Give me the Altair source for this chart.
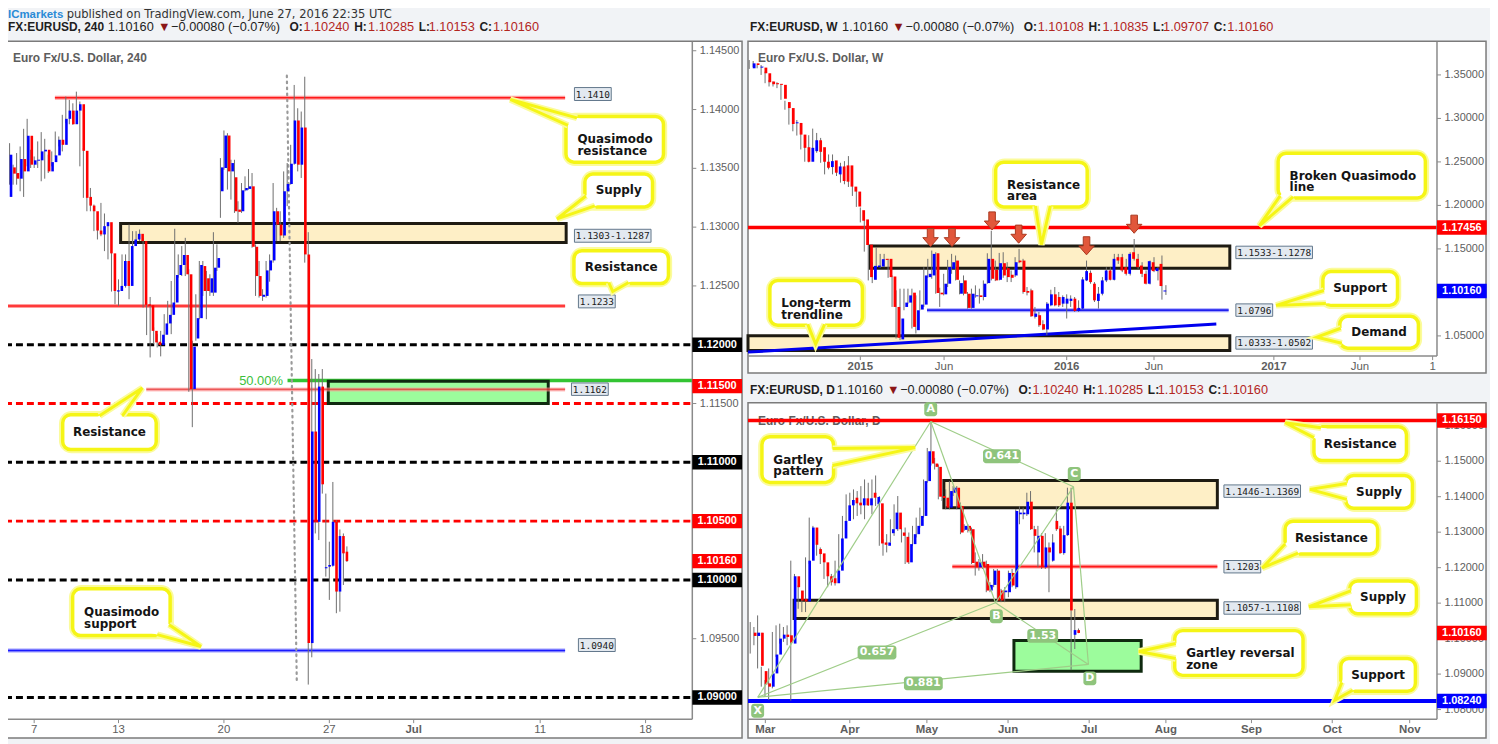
import altair as alt
import pandas as pd

# ============================ DATA ============================
# ---- EURUSD 240 (4h) candles, index 0 = first bar of Mon 27 Jun ----
H4_FIRST = -92
h4_open = [1.13257, 1.13508, 1.13460, 1.13412, 1.13579, 1.13474, 1.13777, 1.13531, 1.13565, 1.13568,
           1.13644, 1.13658, 1.13474, 1.13553, 1.13610, 1.13743, 1.13700, 1.13921, 1.13991, 1.13875,
           1.13991, 1.14045, 1.13649, 1.13257, 1.13183, 1.13135, 1.12971, 1.12938, 1.13008, 1.13042,
           1.12777, 1.12452, 1.12457, 1.12500, 1.12712, 1.12500, 1.12839, 1.12895, 1.12943, 1.12881,
           1.12344, 1.12336, 1.12118, 1.12025, 1.11997, 1.12085, 1.12181, 1.12254, 1.12359, 1.12593,
           1.12678, 1.12763, 1.12599, 1.11624, 1.12053, 1.12226, 1.12669, 1.12565, 1.12443, 1.12443,
           1.12655, 1.13305, 1.13503, 1.13779, 1.13474, 1.13424, 1.13149, 1.13135, 1.13313, 1.13325,
           1.13347, 1.12833, 1.12584, 1.12409, 1.12415, 1.12632, 1.12717, 1.13135, 1.13022, 1.12929,
           1.13305, 1.13367, 1.13539, 1.13907, 1.13531, 1.13847, 1.12768, 1.09463, 1.11262, 1.10494,
           1.11644, 1.10099, 1.10113, 1.10121, 1.10494, 1.09901, 1.10373, 1.10240]
h4_high = [1.13743, 1.13714, 1.13531, 1.13630, 1.13686, 1.13836, 1.13921, 1.13658, 1.13601, 1.13729,
           1.13808, 1.13751, 1.13616, 1.13644, 1.13813, 1.13771, 1.13955, 1.14110, 1.14082, 1.14053,
           1.14152, 1.14068, 1.13672, 1.13361, 1.13333, 1.13192, 1.13036, 1.13206, 1.13116, 1.13042,
           1.12796, 1.12556, 1.12556, 1.12768, 1.12768, 1.13022, 1.12966, 1.12966, 1.12980, 1.12909,
           1.12359, 1.12406, 1.12147, 1.12090, 1.12118, 1.12260, 1.12373, 1.12542, 1.12986, 1.12768,
           1.12839, 1.12909, 1.12641, 1.12034, 1.12429, 1.12712, 1.12712, 1.12627, 1.12599, 1.12957,
           1.12853, 1.13587, 1.13822, 1.13799, 1.13573, 1.13573, 1.13220, 1.13375, 1.13432, 1.13494,
           1.13460, 1.12853, 1.12712, 1.12472, 1.12712, 1.12768, 1.13375, 1.13164, 1.13135, 1.13474,
           1.13545, 1.13700, 1.14209, 1.14011, 1.13983, 1.14279, 1.12957, 1.11878, 1.11793, 1.11751,
           1.11793, 1.10734, 1.10325, 1.10833, 1.10508, 1.10429, 1.10395, 1.10285]
h4_low = [1.13257, 1.13361, 1.13361, 1.13361, 1.13305, 1.13257, 1.13517, 1.13503, 1.13503, 1.13503,
          1.13390, 1.13412, 1.13460, 1.13517, 1.13601, 1.13686, 1.13644, 1.13884, 1.13875, 1.13870,
          1.13983, 1.13517, 1.13249, 1.13135, 1.13135, 1.12966, 1.12895, 1.12923, 1.12796, 1.12726,
          1.12452, 1.12344, 1.12330, 1.12486, 1.12486, 1.12387, 1.12825, 1.12881, 1.12881, 1.12316,
          1.12082, 1.11892, 1.12005, 1.11977, 1.11901, 1.12014, 1.12175, 1.12090, 1.12344, 1.12570,
          1.12584, 1.12584, 1.11600, 1.11299, 1.12034, 1.12217, 1.12415, 1.12217, 1.12415, 1.12415,
          1.12627, 1.13079, 1.13488, 1.13319, 1.13234, 1.13121, 1.13036, 1.13121, 1.13305, 1.13319,
          1.12825, 1.12415, 1.12401, 1.12373, 1.12401, 1.12536, 1.12698, 1.12881, 1.12881, 1.12909,
          1.13178, 1.13361, 1.13531, 1.13474, 1.13418, 1.12698, 1.09110, 1.09342, 1.10395, 1.10339,
          1.10734, 1.10028, 1.09830, 1.10113, 1.09717, 1.09730, 1.09957, 1.10153]
h4_close = [1.13616, 1.13455, 1.13412, 1.13579, 1.13474, 1.13777, 1.13531, 1.13568, 1.13573, 1.13644,
            1.13658, 1.13474, 1.13553, 1.13610, 1.13743, 1.13700, 1.13921, 1.13991, 1.13875, 1.13991,
            1.14045, 1.13649, 1.13249, 1.13183, 1.13135, 1.12971, 1.12938, 1.13008, 1.13042, 1.12777,
            1.12457, 1.12463, 1.12500, 1.12712, 1.12500, 1.12839, 1.12895, 1.12943, 1.12881, 1.12339,
            1.12330, 1.12118, 1.12020, 1.11997, 1.12085, 1.12181, 1.12254, 1.12359, 1.12593, 1.12678,
            1.12763, 1.12599, 1.11624, 1.11983, 1.12226, 1.12678, 1.12457, 1.12457, 1.12565, 1.12655,
            1.12737, 1.13508, 1.13779, 1.13474, 1.13545, 1.13135, 1.13130, 1.13313, 1.13333, 1.13347,
            1.12833, 1.12584, 1.12415, 1.12424, 1.12632, 1.12717, 1.13135, 1.13022, 1.12929, 1.13305,
            1.13367, 1.13539, 1.13907, 1.13531, 1.13847, 1.12768, 1.09463, 1.11262, 1.10494, 1.11644,
            1.10813, 1.10108, 1.10127, 1.10494, 1.09901, 1.10373, 1.10226, 1.10160]
h4_xtick_pos = [-84, -60, -30, 0, 24, 60, 90]
h4_xtick_lbl = ["7", "13", "20", "27", "Jul", "11", "18"]
h4_yticks = [1.145, 1.14, 1.135, 1.13, 1.125, 1.12, 1.115, 1.11, 1.105, 1.10, 1.095, 1.09]
h4_round_black = [1.12, 1.11, 1.10, 1.09]
h4_round_red = [1.115, 1.105]
h4_qm_res, h4_res, h4_res2, h4_qm_sup = 1.1410, 1.1233, 1.1162, 1.0940
h4_supply = [1.1287, 1.1303]
h4_green = [1.1150, 1.1169]
h4_fib50 = 1.11695
h4_last = 1.10160

# ---- EURUSD weekly candles, index 0 = first week of 2015 ----
W_FIRST = -28
w_open = [1.3576, 1.3633, 1.3584, 1.3584, 1.3519, 1.3424, 1.3405, 1.3397, 1.3386, 1.3188,
          1.3119, 1.2944, 1.2948, 1.2814, 1.2669, 1.2502, 1.2624, 1.2749, 1.2669, 1.2502,
          1.2441, 1.2517, 1.2357, 1.2448, 1.2460, 1.2460, 1.2216, 1.2159, 1.1945, 1.1839,
          1.1549, 1.1145, 1.1290, 1.1298, 1.1386, 1.1386, 1.1183, 1.0833, 1.0460, 1.0833,
          1.0883, 1.0997, 1.0566, 1.0803, 1.0860, 1.1176, 1.1195, 1.1450, 1.0997, 1.0978,
          1.1100, 1.1271, 1.1366, 1.0985, 1.1138, 1.0985, 1.0822, 1.0955, 1.0966, 1.0947,
          1.1107, 1.1386, 1.1260, 1.1145, 1.1336, 1.1279, 1.1203, 1.1195, 1.1366, 1.1366,
          1.1016, 1.1024, 1.0719, 1.0738, 1.0635, 1.0574, 1.0852, 1.0978, 1.0947, 1.0871,
          1.0871, 1.0902, 1.0928, 1.0787, 1.0814, 1.1138, 1.1225, 1.1100, 1.0902, 1.0985,
          1.1138, 1.1252, 1.1145, 1.1405, 1.1405, 1.1290, 1.1214, 1.1462, 1.1386, 1.1309,
          1.1214, 1.1100, 1.1347, 1.1245, 1.1328, 1.10108]
w_high = [1.3671, 1.3660, 1.3614, 1.3614, 1.3538, 1.3443, 1.3424, 1.3416, 1.3393, 1.3203,
          1.3127, 1.2974, 1.2982, 1.2833, 1.2757, 1.2807, 1.2883, 1.2833, 1.2776, 1.2567,
          1.2586, 1.2586, 1.2490, 1.2490, 1.2509, 1.2567, 1.2243, 1.2205, 1.1976, 1.1900,
          1.1671, 1.1347, 1.1519, 1.1443, 1.1443, 1.1386, 1.1195, 1.1024, 1.1043, 1.1043,
          1.1043, 1.1043, 1.0966, 1.1024, 1.1290, 1.1386, 1.1481, 1.1462, 1.1054, 1.1214,
          1.1374, 1.1443, 1.1424, 1.1138, 1.1195, 1.1005, 1.1043, 1.1081, 1.1043, 1.1138,
          1.1450, 1.1709, 1.1366, 1.1454, 1.1462, 1.1347, 1.1252, 1.1405, 1.1500, 1.1386,
          1.1062, 1.1043, 1.0833, 1.0776, 1.0680, 1.0890, 1.1031, 1.1062, 1.1005, 1.0966,
          1.0978, 1.0966, 1.0947, 1.0909, 1.1176, 1.1366, 1.1252, 1.1119, 1.1062, 1.1176,
          1.1290, 1.1290, 1.1443, 1.1443, 1.1443, 1.1386, 1.1462, 1.1614, 1.1443, 1.1347,
          1.1252, 1.1366, 1.1405, 1.1290, 1.1424, 1.10835]
w_low = [1.3569, 1.3590, 1.3576, 1.3500, 1.3405, 1.3367, 1.3367, 1.3348, 1.3214, 1.3100,
         1.2929, 1.2852, 1.2803, 1.2643, 1.2502, 1.2495, 1.2605, 1.2605, 1.2490, 1.2357,
         1.2414, 1.2357, 1.2338, 1.2262, 1.2243, 1.2212, 1.2109, 1.1983, 1.1805, 1.1469,
         1.1138, 1.1107, 1.1283, 1.1283, 1.1290, 1.1168, 1.0833, 1.0471, 1.0452, 1.0795,
         1.0871, 1.0585, 1.0528, 1.0795, 1.0833, 1.1168, 1.1157, 1.0985, 1.0833, 1.0966,
         1.1062, 1.1214, 1.1138, 1.0978, 1.0966, 1.0814, 1.0814, 1.0940, 1.0871, 1.0909,
         1.1100, 1.1138, 1.1130, 1.1138, 1.1168, 1.1119, 1.1119, 1.1176, 1.1336, 1.0985,
         1.0966, 1.0719, 1.0700, 1.0604, 1.0566, 1.0509, 1.0841, 1.0841, 1.0833, 1.0833,
         1.0700, 1.0833, 1.0776, 1.0776, 1.0803, 1.1130, 1.1100, 1.0890, 1.0814, 1.0966,
         1.1119, 1.1138, 1.1138, 1.1328, 1.1233, 1.1195, 1.1195, 1.1366, 1.1271, 1.1176,
         1.1092, 1.1092, 1.1233, 1.1138, 1.0917, 1.09707]
w_close = [1.3633, 1.3614, 1.3595, 1.3519, 1.3416, 1.3393, 1.3393, 1.3386, 1.3226, 1.3119,
           1.2936, 1.2955, 1.2814, 1.2662, 1.2502, 1.2662, 1.2749, 1.2616, 1.2502, 1.2433,
           1.2509, 1.2376, 1.2448, 1.2281, 1.2273, 1.2216, 1.2159, 1.1987, 1.1824, 1.1545,
           1.1176, 1.1305, 1.1309, 1.1382, 1.1374, 1.1176, 1.0833, 1.0479, 1.0700, 1.0883,
           1.0966, 1.0604, 1.0795, 1.0860, 1.1195, 1.1214, 1.1443, 1.0993, 1.0978, 1.1100,
           1.1290, 1.1347, 1.1145, 1.1107, 1.0985, 1.0822, 1.0985, 1.0966, 1.0947, 1.1100,
           1.1386, 1.1157, 1.1138, 1.1336, 1.1195, 1.1176, 1.1168, 1.1347, 1.1347, 1.1005,
           1.0997, 1.0726, 1.0757, 1.0623, 1.0574, 1.0871, 1.0978, 1.0852, 1.0852, 1.0947,
           1.0928, 1.0928, 1.0787, 1.0822, 1.1149, 1.1245, 1.1119, 1.0909, 1.0985, 1.1138,
           1.1252, 1.1145, 1.1386, 1.1366, 1.1252, 1.1214, 1.1443, 1.1386, 1.1290, 1.1214,
           1.1100, 1.1359, 1.1245, 1.1279, 1.1073, 1.10160]
w_xtick_pos = [0, 21.1, 52.0, 74.0, 104.2, 125.9, 144.2]
w_xtick_lbl = ["2015", "Jun", "2016", "Jun", "2017", "Jun", "1"]
w_yticks = [1.35, 1.30, 1.25, 1.20, 1.15, 1.10, 1.05]
w_bqm = 1.17456
w_res_area = [1.1278, 1.1533]
w_support = 1.0796
w_demand = [1.0333, 1.0502]
w_trend_i = [-28.3, 89.7]
w_trend_v = [1.03138, 1.06373]
w_arrow_i = [17.7, 23.1, 33.2, 39.9, 57.0, 69.0]
w_arrow_v = [1.16319, 1.16319, 1.18229, 1.16707, 1.15370, 1.17851]
w_last = 1.10160

# ---- EURUSD daily candles, index 0 = last session ----
D_FIRST = -89
d_open = [1.10168, 1.10075, 1.10168, 1.09084, 1.08738, 1.08645, 1.09019, 1.09551, 1.10000, 1.10112,
          1.10093, 1.09860, 1.11757, 1.11355, 1.11121, 1.11047, 1.12197, 1.13131, 1.12524, 1.12402,
          1.12150, 1.11757, 1.11701, 1.11561, 1.11916, 1.12823, 1.13318, 1.13757, 1.13972, 1.13832,
          1.13757, 1.13954, 1.13757, 1.14112, 1.13785, 1.13813, 1.12710, 1.12617, 1.12972, 1.13084,
          1.13552, 1.12991, 1.12869, 1.12150, 1.12664, 1.12944, 1.13178, 1.13458, 1.14440, 1.15281,
          1.14935, 1.14841, 1.14019, 1.13972, 1.13692, 1.14112, 1.14253, 1.13739, 1.13066, 1.13178,
          1.13084, 1.12169, 1.12010, 1.12169, 1.12103, 1.11355, 1.11514, 1.11916, 1.11355, 1.11308,
          1.11308, 1.11851, 1.11449, 1.13505, 1.13505, 1.13505, 1.13860, 1.13084, 1.12430, 1.12897,
          1.12010, 1.12570, 1.12197, 1.13318, 1.13103, 1.12411, 1.12916, 1.13832, 1.10108, 1.10240]
d_high = [1.10467, 1.10327, 1.10654, 1.09206, 1.08832, 1.09159, 1.10187, 1.10374, 1.10421, 1.10327,
          1.10374, 1.12197, 1.11823, 1.11496, 1.11215, 1.12290, 1.13411, 1.13178, 1.12757, 1.12570,
          1.12337, 1.11963, 1.11823, 1.12197, 1.12944, 1.13458, 1.14066, 1.14112, 1.14206, 1.14159,
          1.14299, 1.14486, 1.14393, 1.14486, 1.14598, 1.14019, 1.12804, 1.12944, 1.13365, 1.13785,
          1.14019, 1.13103, 1.13131, 1.12991, 1.13178, 1.13411, 1.13692, 1.14486, 1.15374, 1.16122,
          1.15094, 1.14907, 1.14066, 1.14206, 1.14440, 1.14299, 1.14299, 1.13832, 1.13224, 1.13224,
          1.13131, 1.12430, 1.12243, 1.12383, 1.12197, 1.11589, 1.11963, 1.11963, 1.11402, 1.11449,
          1.11916, 1.11963, 1.13645, 1.13739, 1.13692, 1.14112, 1.14159, 1.13178, 1.13178, 1.12972,
          1.12972, 1.12710, 1.12944, 1.13739, 1.13178, 1.13178, 1.14253, 1.14253, 1.10835, 1.10285]
d_low = [1.09579, 1.09813, 1.09159, 1.08645, 1.08365, 1.08271, 1.08598, 1.09486, 1.09860, 1.09907,
         1.09813, 1.08252, 1.11121, 1.10841, 1.10748, 1.10748, 1.12103, 1.12430, 1.12337, 1.12103,
         1.11683, 1.11449, 1.11496, 1.11496, 1.11869, 1.12785, 1.13271, 1.13598, 1.13365, 1.13458,
         1.13505, 1.13365, 1.13739, 1.13505, 1.13739, 1.12617, 1.12337, 1.12430, 1.12710, 1.12897,
         1.13037, 1.12710, 1.12103, 1.12103, 1.12617, 1.12851, 1.13131, 1.13411, 1.14393, 1.14879,
         1.14767, 1.13926, 1.13879, 1.13645, 1.13645, 1.14019, 1.13645, 1.12944, 1.13037, 1.12991,
         1.12103, 1.11776, 1.11916, 1.11963, 1.11308, 1.11308, 1.11449, 1.11028, 1.11028, 1.11028,
         1.11168, 1.11449, 1.11402, 1.13224, 1.13365, 1.13458, 1.13066, 1.12430, 1.12010, 1.11963,
         1.11963, 1.11308, 1.12169, 1.13037, 1.12383, 1.12365, 1.12897, 1.09112, 1.09707, 1.10153]
d_close = [1.10075, 1.10168, 1.09234, 1.08710, 1.08645, 1.09019, 1.09551, 1.10000, 1.10112, 1.10047,
           1.09888, 1.11757, 1.11449, 1.11075, 1.11047, 1.12197, 1.13131, 1.12645, 1.12383, 1.12150,
           1.11757, 1.11589, 1.11561, 1.11916, 1.12823, 1.13318, 1.13757, 1.13907, 1.13813, 1.13757,
           1.13954, 1.13757, 1.13954, 1.13972, 1.13991, 1.12682, 1.12645, 1.12710, 1.13084, 1.13552,
           1.13084, 1.12897, 1.12150, 1.12664, 1.12944, 1.13178, 1.13458, 1.14440, 1.15281, 1.14935,
           1.14841, 1.14000, 1.13963, 1.13692, 1.14159, 1.14253, 1.13692, 1.12991, 1.13178, 1.13037,
           1.12131, 1.12010, 1.12150, 1.12010, 1.11355, 1.11514, 1.11916, 1.11075, 1.11075, 1.11355,
           1.11851, 1.11496, 1.13598, 1.13552, 1.13552, 1.13860, 1.13084, 1.12897, 1.12897, 1.12010,
           1.12570, 1.12430, 1.12710, 1.13084, 1.12411, 1.12916, 1.13832, 1.10795, 1.10240, 1.10160]
d_xtick_pos = [-84.9, -62.0, -41.1, -19.1, 2.9, 23.7, 46.9, 68.8, 89.8]
d_xtick_lbl = ["Mar", "Apr", "May", "Jun", "Jul", "Aug", "Sep", "Oct", "Nov"]
d_yticks = [1.16, 1.15, 1.14, 1.13, 1.12, 1.11, 1.10, 1.09, 1.08]
d_res = 1.1615
d_supply_hi = [1.1369, 1.1446]
d_res2 = 1.1203
d_supply_lo = [1.1057, 1.1108]
d_grz = [1.0908, 1.0995]
d_support = 1.0824
d_last = 1.10160
gart_names = ["X", "A", "B", "C", "D"]
gart_i = [-86.95, -40.05, -22.5, -1.35, 2.7]
gart_v = [1.08347, 1.16121, 1.11010, 1.14282, 1.09272]
gart_legs = [("X", "A"), ("A", "B"), ("B", "C"), ("C", "D"), ("X", "B"), ("A", "C"), ("B", "D"), ("X", "D")]

# ---- header quote texts ----
quote_change = "−0.00080 (−0.07%)"
quote_last = "1.10160"
quote_ohlc_240 = ["1.10240", "1.10285", "1.10153", "1.10160"]
quote_ohlc_w = ["1.10108", "1.10835", "1.09707", "1.10160"]
quote_ohlc_d = ["1.10240", "1.10285", "1.10153", "1.10160"]

# ============================ HELPERS ============================
OFF = 8  # body margin of the page
SANS = "Liberation Sans, Arial, sans-serif"
BOLDF = "DejaVu Sans, Verdana, sans-serif"
MONO = "DejaVu Sans Mono, monospace"
UP, DN, WICK = "#0000ff", "#ff0000", "#6e6e6e"
CREAM, EDGE = "#feefc6", "#1e1b12"
GREENZ, GEDGE = "#9cfc9c", "#0f2a0f"
YEL, YGLOW = "#f5f516", "#fbfb9c"


def PX(v):
    return v - OFF


class Panel:
    def __init__(s, xd, x0, x1, yd, y0, y1):
        s.xd, s.yd = xd, yd
        s.x0, s.x1, s.y0, s.y1 = x0, x1, y0, y1
        s.xr = [PX(x0), PX(x1)]
        s.yr = [PX(y1), PX(y0)]
        s.ppu = (y1 - y0) / (yd[1] - yd[0])

    def X(s, f):
        return alt.X(f"{f}:Q", scale=alt.Scale(domain=s.xd, range=s.xr, nice=False, zero=False), axis=None)

    def Y(s, f):
        return alt.Y(f"{f}:Q", scale=alt.Scale(domain=s.yd, range=s.yr, nice=False, zero=False), axis=None)


LEFT = Panel([-92.3, 103.3], 5, 696, [1.08816, 1.14576], 40, 721)
WEEK = Panel([-28.3, 145.3], 752, 1444.7, [1.02679, 1.38807], 40, 356)
DAY = Panel([-89.6, 97.2], 752, 1444.7, [1.0773, 1.16637], 403.3, 721)


def RX(f):
    return alt.X(f"{f}:Q", scale=None, axis=None)


def RY(f):
    return alt.Y(f"{f}:Q", scale=None, axis=None)


layers = []


def add(*cs):
    layers.extend(cs)


def candles(P, first, o, h, l, c, w):
    n = len(o)
    lo = [min(a, b) for a, b in zip(o, c)]
    hi = [max(max(a, b), min(a, b) + 1.0 / P.ppu) for a, b in zip(o, c)]
    df = pd.DataFrame({"i": [first + k for k in range(n)], "h": h, "l": l, "lo": lo, "hi": hi,
                       "col": [UP if cc >= oo else DN for oo, cc in zip(o, c)]})
    wick = alt.Chart(df).mark_rule(color=WICK, strokeWidth=1).encode(x=P.X("i"), y=P.Y("l"), y2="h")
    body = alt.Chart(df).mark_bar(size=w).encode(x=P.X("i"), y=P.Y("lo"), y2="hi",
                                                  color=alt.Color("col:N", scale=None))
    return [wick, body]


def hline(P, vals, xa, xb, color, width, dash=None, opacity=1.0):
    df = pd.DataFrame({"v": vals, "a": [xa] * len(vals), "b": [xb] * len(vals)})
    kw = dict(color=color, strokeWidth=width, opacity=opacity)
    if dash:
        kw["strokeDash"] = dash
    return alt.Chart(df).mark_rule(**kw).encode(x=P.X("a"), x2="b", y=P.Y("v"))


def halo(P, v, xa, xb, c1, c2):
    return [hline(P, [v], xa, xb, c1, 4), hline(P, [v], xa, xb, c2, 1.6)]


def zone(P, lo, hi, xa, xb, fill, stroke, sw=3):
    df = pd.DataFrame({"a": [xa], "b": [xb], "lo": [lo], "hi": [hi]})
    return alt.Chart(df).mark_rect(fill=fill, stroke=stroke, strokeWidth=sw).encode(
        x=P.X("a"), x2="b", y=P.Y("lo"), y2="hi")


def axes(P, axis_x, bottom, yt, xt_pos, xt_lbl, xlab_y, bold_lbl=()):
    one = pd.DataFrame({"k": [0]})
    out = [
        alt.Chart(one).mark_rule(color="#8a8a8a", strokeWidth=1.5).encode(
            x=alt.value(PX(axis_x)), y=alt.value(PX(P.y0)), y2=alt.value(PX(bottom))),
        alt.Chart(one).mark_rule(color="#8a8a8a", strokeWidth=1.5).encode(
            x=alt.value(PX(P.x0)), x2=alt.value(PX(axis_x)), y=alt.value(PX(bottom))),
    ]
    ydf = pd.DataFrame({"v": yt, "t": [f"{v:.5f}" for v in yt]})
    out.append(alt.Chart(ydf).mark_rule(color="#8a8a8a").encode(
        x=alt.value(PX(axis_x)), x2=alt.value(PX(axis_x + 4)), y=P.Y("v")))
    out.append(alt.Chart(ydf).mark_text(align="left", baseline="middle", font=SANS, fontSize=11,
                                        color="#5e5e5e").encode(
        x=alt.value(PX(axis_x + 7.5)), y=P.Y("v"), text="t:N"))
    xdf = pd.DataFrame({"v": xt_pos, "t": xt_lbl, "b": [t in bold_lbl for t in xt_lbl]})
    out.append(alt.Chart(xdf).mark_rule(color="#8a8a8a").encode(
        x=P.X("v"), y=alt.value(PX(bottom)), y2=alt.value(PX(bottom + 4))))
    for isb in (False, True):
        sub = xdf[xdf.b == isb]
        if len(sub):
            out.append(alt.Chart(sub).mark_text(align="center", baseline="middle", font=SANS, fontSize=11.5,
                                                fontWeight="bold" if isb else "normal",
                                                color="#5e5e5e").encode(
                x=P.X("v"), y=alt.value(PX(xlab_y)), text="t:N"))
    return out


def tags(P, axis_x, items):
    out = []
    for shift in sorted(set(it[3] for it in items)):
        sub = [it for it in items if it[3] == shift]
        df = pd.DataFrame({"v": [s[0] for s in sub], "t": [s[1] for s in sub], "bg": [s[2] for s in sub]})
        hh, u = 7.25, 25.0
        a, b = (-hh + shift) / u, (hh + shift) / u
        path = f"M-1,{a:.4f}L1,{a:.4f}L1,{b:.4f}L-1,{b:.4f}Z"
        out.append(alt.Chart(df).mark_point(shape=path, size=2500, filled=True, opacity=1, strokeWidth=0).encode(
            x=alt.value(PX(axis_x + 25)), y=P.Y("v"), color=alt.Color("bg:N", scale=None)))
        out.append(alt.Chart(df).mark_text(font=SANS, fontSize=11, fontWeight="bold", color="white",
                                           dy=shift, align="center", baseline="middle").encode(
            x=alt.value(PX(axis_x + 25)), y=P.Y("v"), text="t:N"))
    return out


# ============================ LAYERS ============================
frames = pd.DataFrame({"x0": [PX(4), PX(752), PX(752)], "x1": [PX(746), PX(1494), PX(1494)],
                       "y0": [PX(39.5), PX(39.5), PX(403)], "y1": [PX(740), PX(373), PX(740)]})
add(alt.Chart(frames).mark_rect(fill="white", stroke="#7b7b7b", strokeWidth=1.5).encode(
    x=RX("x0"), x2=alt.X2("x1"), y=RY("y0"), y2=alt.Y2("y1")))

titles = pd.DataFrame({"x": [PX(13), PX(762), PX(762)], "y": [PX(56), PX(56), PX(421)],
                       "t": ["Euro Fx/U.S. Dollar, 240", "Euro Fx/U.S. Dollar, W", "Euro Fx/U.S. Dollar, D"]})
add(alt.Chart(titles).mark_text(align="left", baseline="middle", font=SANS, fontSize=12, fontWeight="bold",
                                color="#5d5d5d").encode(x=RX("x"), y=RY("y"), text="t:N"))

# ---------- 4h panel ----------
add(zone(LEFT, h4_supply[0], h4_supply[1], -59.4, 67.4, CREAM, EDGE))
add(hline(LEFT, h4_round_black, LEFT.xd[0], LEFT.xd[1], "#000000", 3, dash=[7, 4]))
add(hline(LEFT, h4_round_red, LEFT.xd[0], LEFT.xd[1], "#ff0000", 3, dash=[7, 4]))
add(*halo(LEFT, h4_qm_res, -78.1, 67.1, "#ff9d9d", "#ff1a1a"))
add(*halo(LEFT, h4_res, LEFT.xd[0], 67.1, "#ff9d9d", "#ff1a1a"))
add(*halo(LEFT, h4_qm_sup, LEFT.xd[0], 67.1, "#9d9dff", "#1a1aff"))
add(hline(LEFT, [h4_fib50], -11.9, LEFT.xd[1], "#33c433", 3.5))
add(zone(LEFT, h4_green[0], h4_green[1], -0.3, 62.3, GREENZ, GEDGE))
add(hline(LEFT, [h4_res2], -52.1, 67.1, "#ff9d9d", 4, opacity=0.6))
add(hline(LEFT, [h4_res2], -52.1, 67.1, "#e01010", 1.6, opacity=0.6))
dot = pd.DataFrame({"a": [-12.09], "b": [-9.26], "v1": [1.14288], "v2": [1.09135]})
add(alt.Chart(dot).mark_rule(color="#9a9a9a", strokeWidth=2.2, strokeDash=[1.6, 4.4], strokeCap="round").encode(
    x=LEFT.X("a"), x2="b", y=LEFT.Y("v1"), y2="v2"))
fibt = pd.DataFrame({"i": [-13.2], "v": [h4_fib50], "t": ["50.00%"]})
add(alt.Chart(fibt).mark_text(align="right", baseline="middle", font=SANS, fontSize=13, color="#3cbf3c").encode(
    x=LEFT.X("i"), y=LEFT.Y("v"), text="t:N"))
add(*candles(LEFT, H4_FIRST, h4_open, h4_high, h4_low, h4_close, 2.6))

# ---------- weekly panel ----------
add(zone(WEEK, w_res_area[0], w_res_area[1], 2.5, 93.1, CREAM, EDGE))
add(zone(WEEK, w_demand[0], w_demand[1], WEEK.xd[0], 93.1, CREAM, EDGE))
add(hline(WEEK, [w_bqm], WEEK.xd[0], WEEK.xd[1], "#ff0000", 3.5))
add(*halo(WEEK, w_support, 16.8, 92.8, "#a0a0ff", "#2020ee"))
tr = pd.DataFrame({"a": [w_trend_i[0]], "b": [w_trend_i[1]], "v1": [w_trend_v[0]], "v2": [w_trend_v[1]]})
add(alt.Chart(tr).mark_rule(color="#0000ee", strokeWidth=3).encode(
    x=WEEK.X("a"), x2="b", y=WEEK.Y("v1"), y2="v2"))
add(*candles(WEEK, W_FIRST, w_open, w_high, w_low, w_close, 2.8))
ARROW = "M-0.33,-0.9L0.33,-0.9L0.33,0.02L0.78,0.02L0,0.92L-0.78,0.02L-0.33,0.02Z"
arr = pd.DataFrame({"i": w_arrow_i, "v": w_arrow_v})
add(alt.Chart(arr).mark_point(shape=ARROW, size=400, filled=True, opacity=1, fill="#e1573b",
                              stroke="#a9381f", strokeWidth=1).encode(x=WEEK.X("i"), y=WEEK.Y("v")))

# ---------- daily panel ----------
add(hline(DAY, [d_res], DAY.xd[0], DAY.xd[1], "#ff0000", 3.5))
add(zone(DAY, d_supply_hi[0], d_supply_hi[1], -36.5, 37.65, CREAM, EDGE))
add(zone(DAY, d_supply_lo[0], d_supply_lo[1], -77.1, 37.65, CREAM, EDGE))
add(*halo(DAY, d_res2, -34.2, 37.65, "#ff9d9d", "#ff1a1a"))
add(zone(DAY, d_grz[0], d_grz[1], -17.5, 17.0, GREENZ, GEDGE))
add(hline(DAY, [d_support], DAY.xd[0], DAY.xd[1], "#0000ff", 4))
add(*candles(DAY, D_FIRST, d_open, d_high, d_low, d_close, 2.7))
gp = dict(zip(gart_names, zip(gart_i, gart_v)))
legs = pd.DataFrame({"a": [gp[p][0] for p, q in gart_legs], "b": [gp[q][0] for p, q in gart_legs],
                     "v1": [gp[p][1] for p, q in gart_legs], "v2": [gp[q][1] for p, q in gart_legs]})
add(alt.Chart(legs).mark_rule(color="#9fcd88", strokeWidth=1.2).encode(
    x=DAY.X("a"), x2="b", y=DAY.Y("v1"), y2="v2"))
glab = [("A", 935.7, 409.5, 13), ("B", 1001.7, 617.5, 13), ("C", 1080, 474.5, 13), ("D", 1095.7, 680, 13),
        ("X", 761.7, 712.5, 13), ("0.641", 1007.3, 456.7, 38), ("0.657", 881.7, 654, 39),
        ("1.53", 1048.3, 637.3, 31), ("0.881", 928.3, 685, 39)]
gl = pd.DataFrame({"t": [g[0] for g in glab], "cx": [PX(g[1]) for g in glab], "cy": [PX(g[2]) for g in glab],
                   "x0": [PX(g[1] - g[3] / 2) for g in glab], "x1": [PX(g[1] + g[3] / 2) for g in glab],
                   "y0": [PX(g[2] - 7) for g in glab], "y1": [PX(g[2] + 7) for g in glab]})
add(alt.Chart(gl).mark_rect(fill="#8fc47c", cornerRadius=3).encode(
    x=RX("x0"), x2=alt.X2("x1"), y=RY("y0"), y2=alt.Y2("y1")))
add(alt.Chart(gl).mark_text(font=BOLDF, fontSize=11, fontWeight="bold", color="white", align="center",
                            baseline="middle").encode(x=RX("cx"), y=RY("cy"), text="t:N"))

# ---------- axes ----------
add(*axes(LEFT, 696, 721, h4_yticks, h4_xtick_pos, h4_xtick_lbl, 731.7, bold_lbl=("Jul",)))
add(*axes(WEEK, 1444.7, 356, w_yticks, w_xtick_pos, w_xtick_lbl, 367.3, bold_lbl=("2015", "2016", "2017")))
add(*axes(DAY, 1444.7, 721, d_yticks, d_xtick_pos, d_xtick_lbl, 731.7, bold_lbl=tuple(d_xtick_lbl)))

add(*tags(LEFT, 696, [(1.12, "1.12000", "#000000", 0), (1.115, "1.11500", "#ff0000", -17.5),
                      (1.11, "1.11000", "#000000", 0), (1.105, "1.10500", "#ff0000", 0),
                      (h4_last, "1.10160", "#ff0000", 0), (1.10, "1.10000", "#000000", 0),
                      (1.09, "1.09000", "#000000", 0)]))
add(*tags(WEEK, 1444.7, [(w_bqm, "1.17456", "#ff0000", 0), (w_last, "1.10160", "#0000ff", 0)]))
add(*tags(DAY, 1444.7, [(d_res, "1.16150", "#ff0000", 0), (d_last, "1.10160", "#ff0000", 0),
                        (d_support, "1.08240", "#0000ff", 0)]))

# ---------- level chips ----------
chips = [("1.1410", 577.5, 86, 614.5, 99), ("1.1303-1.1287", 577.5, 228.5, 654.5, 241.5),
         ("1.1233", 581.5, 294.5, 618.5, 307.5), ("1.1162", 574.5, 383, 611.5, 395.5),
         ("1.0940", 581.5, 640, 618.5, 653),
         ("1.1533-1.1278", 1242.5, 245.5, 1319.5, 258), ("1.0796", 1242.5, 303.5, 1279.5, 316),
         ("1.0333-1.0502", 1242.5, 336.5, 1319.5, 349),
         ("1.1446-1.1369", 1230.5, 485.5, 1307.5, 498), ("1.1203", 1230.5, 561.5, 1267.5, 574),
         ("1.1057-1.1108", 1230.5, 603, 1307.5, 615.5)]
ch = pd.DataFrame({"t": [c[0] for c in chips], "x0": [PX(c[1]) for c in chips], "x1": [PX(c[3]) for c in chips],
                   "y0": [PX(c[2]) for c in chips], "y1": [PX(c[4]) for c in chips],
                   "cx": [PX((c[1] + c[3]) / 2) for c in chips], "cy": [PX((c[2] + c[4]) / 2 + 0.5) for c in chips]})
add(alt.Chart(ch).mark_rect(fill="#e3e9f0", stroke="#62778b", strokeWidth=1).encode(
    x=RX("x0"), x2=alt.X2("x1"), y=RY("y0"), y2=alt.Y2("y1")))
add(alt.Chart(ch).mark_text(font=MONO, fontSize=9.5, color="#1b1b1b", align="center", baseline="middle").encode(
    x=RX("cx"), y=RY("cy"), text="t:N"))

# ---------- callouts ----------
callouts = [
    ("Quasimodo\nresistance", (569, 115, 667, 161), (513, 98), (571, 124), (580, 116.5)),
    ("Supply", (588, 173, 656, 206), (560, 218), (589, 195), (598, 205)),
    ("Resistance", (577, 250, 672, 283), (616, 291), (612, 282), (632, 282)),
    ("Resistance", (63, 415, 157, 450), (143, 388), (100, 416), (123, 416)),
    ("Quasimodo\nsupport", (73, 590, 171, 637), (202, 648), (158, 636), (170, 626)),
    ("Resistance\narea", (1001, 161, 1093, 206), (1047, 244), (1041, 205), (1056, 205)),
    ("Broken Quasimodo\nline", (1285, 152, 1433, 197), (1266, 225), (1287, 195), (1300, 196)),
    ("Support", (1330, 271, 1405, 305), (1283, 305), (1331, 290), (1333, 303)),
    ("Demand", (1347, 316, 1426, 348), (1324, 337), (1348, 328), (1349, 343)),
    ("Long-term\ntrendline", (774, 280, 867, 325), (820, 344), (812, 324), (829, 324)),
    ("Gartley\npattern", (766, 437, 838, 483), (920, 448), (837, 449), (837, 466)),
    ("Resistance", (1321, 427, 1414, 461), (1292, 423), (1321, 438), (1328, 428)),
    ("Supply", (1353, 476, 1420, 509), (1317, 490), (1354, 484), (1354, 500)),
    ("Resistance", (1292, 522, 1385, 555), (1269, 569), (1292, 545), (1305, 554)),
    ("Supply", (1357, 582, 1424, 615), (1316, 608), (1358, 592), (1358, 606)),
    ("Gartley reversal\nzone", (1181, 632, 1310, 677), (1145, 653), (1182, 645), (1182, 660)),
    ("Support", (1348, 660, 1423, 693), (1342, 702), (1349, 684), (1360, 692)),
]


def tri_rows(pts, cid):
    xs = []
    for p in sorted(p[0] for p in pts):
        if not xs or abs(p - xs[-1]) > 1e-6:
            xs.append(p)
    edges = [(pts[0], pts[1]), (pts[1], pts[2]), (pts[2], pts[0])]
    rows = []
    for x in xs:
        ys = []
        for (x1, y1), (x2, y2) in edges:
            if abs(x2 - x1) < 1e-6:
                if abs(x - x1) < 1e-5:
                    ys += [y1, y2]
            elif min(x1, x2) - 1e-5 <= x <= max(x1, x2) + 1e-5:
                t = (x - x1) / (x2 - x1)
                ys.append(y1 + t * (y2 - y1))
        rows.append({"cid": cid, "x": x, "ya": min(ys), "yb": max(ys)})
    return rows


boxes, fills, strokes, tc, tl = [], [], [], [], []
for k, (txt, (x0, y0, x1, y1), tip, b1, b2) in enumerate(callouts):
    boxes.append({"x0": PX(x0), "x1": PX(x1), "y0": PX(y0), "y1": PX(y1)})
    t = (PX(tip[0]), PX(tip[1]))
    p1, p2 = (PX(b1[0]), PX(b1[1])), (PX(b2[0]), PX(b2[1]))
    ext = []
    for p in (p1, p2):
        dx, dy = p[0] - t[0], p[1] - t[1]
        d = (dx * dx + dy * dy) ** 0.5
        ext.append((p[0] + dx / d * 6.0, p[1] + dy / d * 6.0))
    fills += tri_rows([ext[0], t, ext[1]], k)
    for j, p in enumerate([p1, t, p2]):
        strokes.append({"cid": k, "o": j, "x": p[0], "y": p[1]})
    if "\n" in txt:
        tl.append({"t": txt, "x": PX(x0 + 11.5), "y": PX((y0 + y1) / 2)})
    else:
        tc.append({"t": txt, "x": PX((x0 + x1) / 2), "y": PX((y0 + y1) / 2)})

bx = pd.DataFrame(boxes)
add(alt.Chart(bx).mark_rect(fill="white", stroke=YGLOW, strokeWidth=7.5, cornerRadius=9).encode(
    x=RX("x0"), x2=alt.X2("x1"), y=RY("y0"), y2=alt.Y2("y1")))
add(alt.Chart(bx).mark_rect(fill="white", stroke=YEL, strokeWidth=3.5, cornerRadius=8).encode(
    x=RX("x0"), x2=alt.X2("x1"), y=RY("y0"), y2=alt.Y2("y1")))
add(alt.Chart(pd.DataFrame(fills)).mark_area(color="white", opacity=1).encode(
    x=RX("x"), y=RY("ya"), y2=alt.Y2("yb"), detail="cid:N"))
st = pd.DataFrame(strokes)
add(alt.Chart(st).mark_line(color=YGLOW, strokeWidth=6.5, strokeJoin="miter").encode(
    x=RX("x"), y=RY("y"), detail="cid:N", order=alt.Order("o:Q")))
add(alt.Chart(st).mark_line(color=YEL, strokeWidth=3, strokeJoin="miter").encode(
    x=RX("x"), y=RY("y"), detail="cid:N", order=alt.Order("o:Q")))
add(alt.Chart(pd.DataFrame(tc)).mark_text(font=BOLDF, fontSize=12, fontWeight="bold", color="#141414",
                                          align="center", baseline="middle").encode(
    x=RX("x"), y=RY("y"), text="t:N"))
add(alt.Chart(pd.DataFrame(tl)).mark_text(font=BOLDF, fontSize=12, fontWeight="bold", color="#141414",
                                          align="left", baseline="middle", lineBreak="\n", lineHeight=12).encode(
    x=RX("x"), y=RY("y"), text="t:N"))

# ---------- header lines ----------
DK, VR, DR = "#1e1e1e", "#b3261e", "#8b1616"


def quote_line(x0, shift, yb, sym, ohlc):
    # offsets of each piece, measured relative to the first piece
    rel = [102.6, 153.1, 166.3, 285.2, 299.3, 350.3, 364.3, 415.3, 425.3, 476.3, 489.9]
    texts = [quote_last, "▼", quote_change, "O:", ohlc[0], "H:", ohlc[1], "L:", ohlc[2], "C:", ohlc[3]]
    cols = [DK, DR, DK, DK, VR, DK, VR, DK, VR, DK, VR]
    bold = [False, False, False, True, False, True, False, True, False, True, False]
    rows = [(x0, yb, sym, DK, True, 12, SANS)]
    for r, t, c, b in zip(rel, texts, cols, bold):
        rows.append((x0 + r + shift, yb, t, c, b, 12 if b else 12.8, SANS))
    return rows


hdr = [(8, 16.5, "ICmarkets", "#2a8bd6", True, 11.5, SANS),
       (67, 16.5, "published on TradingView.com, June 27, 2016 22:35 UTC", "#333333", False, 11.6, BOLDF)]
hdr += quote_line(8, -2.3, 29.3, "FX:EURUSD, 240", quote_ohlc_240)
hdr += quote_line(754, -10, 29.3, "FX:EURUSD, W", quote_ohlc_w)
hdr += quote_line(754, -15.3, 393.6, "FX:EURUSD, D", quote_ohlc_d)
hd = pd.DataFrame({"x": [PX(h[0]) for h in hdr], "y": [PX(h[1]) for h in hdr], "t": [h[2] for h in hdr],
                   "c": [h[3] for h in hdr], "b": [h[4] for h in hdr], "s": [float(h[5]) for h in hdr],
                   "f": [h[6] for h in hdr]})
for fam in sorted(set(hd.f)):
    for isb in (False, True):
        for sz in sorted(set(hd.s)):
            sub = hd[(hd.b == isb) & (hd.s == sz) & (hd.f == fam)]
            if len(sub) == 0:
                continue
            add(alt.Chart(sub).mark_text(align="left", baseline="alphabetic", font=fam, fontSize=sz,
                                         fontWeight="bold" if isb else "normal").encode(
                x=RX("x"), y=RY("y"), text="t:N", color=alt.Color("c:N", scale=None)))

chart = alt.layer(*layers).resolve_scale(x="independent", y="independent").properties(
    width=1490, height=736, autosize=alt.AutoSizeParams(type="none"), padding=0, background="#f1f3f6"
).configure_view(strokeWidth=0)

chart.save("out.html", embed_options={"renderer": "svg", "actions": False})
